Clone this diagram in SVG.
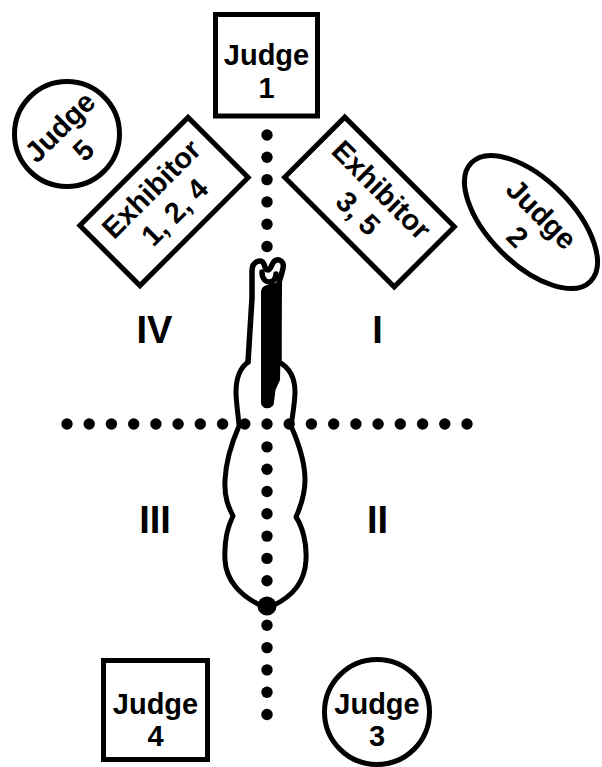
<svg xmlns="http://www.w3.org/2000/svg" width="602" height="767" viewBox="0 0 602 767">
<style>
.ol{fill:none;stroke:#000;stroke-width:5}
.an{fill:none;stroke:#000;stroke-width:5;stroke-linejoin:round;stroke-linecap:round}
.t{font-family:"Liberation Sans",Arial,sans-serif;font-weight:bold;font-size:29px;fill:#000;text-anchor:middle}
.q{font-family:"Liberation Sans",Arial,sans-serif;font-weight:bold;font-size:38px;fill:#000;text-anchor:middle}
.d{fill:#000}
</style>
<rect width="602" height="767" fill="#fff"/>
<g id="connectors">
<g id="horizontal-dots" class="d">
<circle cx="67" cy="424" r="5.7"/><circle cx="89.2" cy="424" r="5.7"/><circle cx="111.4" cy="424" r="5.7"/><circle cx="133.7" cy="424" r="5.7"/><circle cx="155.9" cy="424" r="5.7"/><circle cx="178.1" cy="424" r="5.7"/><circle cx="200.3" cy="424" r="5.7"/><circle cx="222.6" cy="424" r="5.7"/><circle cx="244.8" cy="424" r="5.7"/><circle cx="267" cy="424" r="5.7"/><circle cx="289.2" cy="424" r="5.7"/><circle cx="311.4" cy="424" r="5.7"/><circle cx="333.7" cy="424" r="5.7"/><circle cx="355.9" cy="424" r="5.7"/><circle cx="378.1" cy="424" r="5.7"/><circle cx="400.3" cy="424" r="5.7"/><circle cx="422.6" cy="424" r="5.7"/><circle cx="444.8" cy="424" r="5.7"/><circle cx="467" cy="424" r="5.7"/>
</g>
<g id="vertical-dots" class="d">
<circle cx="267" cy="135" r="5.7"/><circle cx="267" cy="157.3" r="5.7"/><circle cx="267" cy="179.6" r="5.7"/><circle cx="267" cy="201.9" r="5.7"/><circle cx="267" cy="224.2" r="5.7"/><circle cx="267" cy="246.5" r="5.7"/><circle cx="267" cy="291" r="5.7"/><circle cx="267" cy="313.4" r="5.7"/><circle cx="267" cy="335.7" r="5.7"/><circle cx="267" cy="358" r="5.7"/><circle cx="267" cy="380.3" r="5.7"/><circle cx="267" cy="402.6" r="5.7"/><circle cx="267" cy="446.9" r="5.7"/><circle cx="267" cy="469.2" r="5.7"/><circle cx="267" cy="491.5" r="5.7"/><circle cx="267" cy="513.8" r="5.7"/><circle cx="267" cy="536.1" r="5.7"/><circle cx="267" cy="558.4" r="5.7"/><circle cx="267" cy="580.7" r="5.7"/><circle cx="267" cy="603" r="5.7"/><circle cx="267" cy="625.3" r="5.7"/><circle cx="267" cy="647.6" r="5.7"/><circle cx="267" cy="669.9" r="5.7"/><circle cx="267" cy="692.2" r="5.7"/><circle cx="267" cy="714.5" r="5.7"/>
</g>
</g>
<g id="animal">
<path class="an" style="stroke-width:5.5" d="M248,362 L252,298 L252,271 C252,261 262,258 264,264 C265,268 266,270 268,270 C270,270 271,266 273,263 C276,257 285,260 283,268 C282,274 280,278 279,283 L279,362"/>
<path class="an" style="stroke-width:5.5" d="M262,272 C262,285 276,285 276,274"/>
<path d="M261,292 C263,285 276,281 282,283 L280,380 L275.5,390 L274,402 C274,410 261,410 261,402 Z" fill="#000"/>
<path class="an" d="M248,362 C240,368 236,378 236,392 C236,402 238,412 239,426 C232,442 226,460 225,480 C224,498 229,508 233,516 C228,526 224,542 225,560 C226,580 240,596 262,606 M272,606 C292,597 305,582 306,560 C307,542 302,526 296,517 C300,508 305,495 305,480 C305,462 299,444 291,426 C293,412 295,402 295,392 C295,378 290,368 279,362"/>
<circle cx="267" cy="606" r="9.5" fill="#000"/>
</g>
<g id="judge1">
<rect class="ol" x="215.5" y="14.5" width="102" height="101.5"/>
<text class="t" x="266.5" y="65">Judge</text>
<text class="t" x="266.5" y="98">1</text>
</g>
<g id="judge5" transform="translate(67,134) rotate(-45)">
<circle class="ol" cx="0" cy="0" r="52.5"/>
<text class="t" x="0" y="0">Judge</text>
<text class="t" x="0" y="33">5</text>
</g>
<g id="judge2" transform="translate(531,222) rotate(45)">
<ellipse class="ol" cx="0" cy="0" rx="84" ry="42"/>
<text class="t" x="2" y="-3">Judge</text>
<text class="t" x="1" y="30">2</text>
</g>
<g id="exhibitor124" transform="translate(164,201.5) rotate(-45)">
<rect class="ol" x="-76.5" y="-42.5" width="153" height="85"/>
<text class="t" x="0" y="-8">Exhibitor</text>
<text class="t" x="0" y="25">1, 2, 4</text>
</g>
<g id="exhibitor35" transform="translate(369.5,202) rotate(45)">
<rect class="ol" x="-77.5" y="-42.5" width="155" height="85"/>
<text class="t" x="0" y="-7">Exhibitor</text>
<text class="t" x="0" y="26">3, 5</text>
</g>
<g id="judge4">
<rect class="ol" x="103.5" y="660.5" width="104" height="99"/>
<text class="t" x="155.5" y="714">Judge</text>
<text class="t" x="155.5" y="746">4</text>
</g>
<g id="judge3">
<circle class="ol" cx="377" cy="712" r="52.5"/>
<text class="t" x="377" y="714">Judge</text>
<text class="t" x="377" y="746">3</text>
</g>
<g id="quadrants">
<text class="q" x="154.5" y="343">IV</text>
<text class="q" x="377.5" y="343">I</text>
<text class="q" x="155" y="533">III</text>
<text class="q" x="377.5" y="533">II</text>
</g>
</svg>
